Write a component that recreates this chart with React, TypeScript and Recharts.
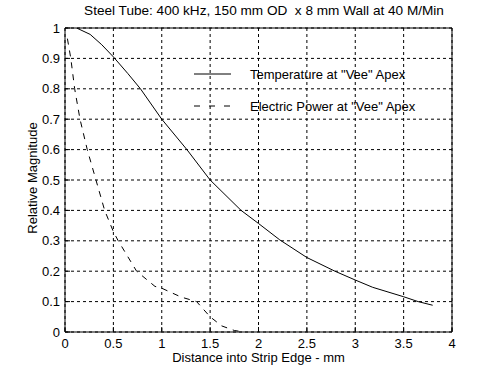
import React from 'react';
import { LineChart, Line, XAxis, YAxis, CartesianGrid, ReferenceArea, Legend } from 'recharts';

const tempX = [0.12, 0.26, 0.38, 0.5, 0.65, 0.78, 1.0, 1.26, 1.5, 1.82, 2.0, 2.22, 2.5, 2.79, 3.0, 3.18, 3.5, 3.65, 3.8];
const tempY = [1.0, 0.979, 0.945, 0.905, 0.85, 0.8, 0.7, 0.6, 0.5, 0.4, 0.357, 0.303, 0.245, 0.2, 0.171, 0.147, 0.116, 0.1, 0.088];

const powerX = [0.025, 0.06, 0.1, 0.155, 0.23, 0.32, 0.41, 0.5, 0.55, 0.74, 0.93, 1.0, 1.2, 1.36, 1.5, 1.62, 1.75, 1.85];
const powerY = [0.965, 0.9, 0.8, 0.7, 0.6, 0.5, 0.4, 0.33, 0.3, 0.2, 0.15, 0.144, 0.115, 0.1, 0.05, 0.02, 0.005, 0.0];

const xTicks = [0, 0.5, 1, 1.5, 2, 2.5, 3, 3.5, 4];
const yTicks = [0, 0.1, 0.2, 0.3, 0.4, 0.5, 0.6, 0.7, 0.8, 0.9, 1];

const titleText = 'Steel Tube: 400 kHz, 150 mm OD  x 8 mm Wall at 40 M/Min';
const xLabel = 'Distance into Strip Edge - mm';
const yLabel = 'Relative Magnitude';
const seriesNames = ['Temperature at "Vee" Apex', 'Electric Power at "Vee" Apex'];

const tempData = tempX.map((x, i) => ({ x, y: tempY[i] }));
const powerData = powerX.map((x, i) => ({ x, y: powerY[i] }));

const FONT = '"Liberation Sans", Arial, sans-serif';

const XTick = (props: any) => {
  const { x, y, payload } = props;
  const axisY = y - 7;
  return (
    <g>
      <line x1={x} x2={x} y1={axisY} y2={axisY - 5} stroke="#000" />
      <text x={x} y={y} dy="0.71em" textAnchor="middle" fontSize={13} fontFamily={FONT} fill="#000">
        {String(payload.value)}
      </text>
    </g>
  );
};

const YTick = (props: any) => {
  const { x, y, payload } = props;
  const axisX = x + 5;
  return (
    <g>
      <line x1={axisX} x2={axisX + 5} y1={y} y2={y} stroke="#000" />
      <text x={x} y={y} dy="0.355em" textAnchor="end" fontSize={13} fontFamily={FONT} fill="#000">
        {String(payload.value)}
      </text>
    </g>
  );
};

const LegendContent = () => (
  <div style={{ fontFamily: FONT, fontSize: 13, color: '#000' }}>
    {seriesNames.map((n, i) => (
      <div key={n} style={{ display: 'flex', alignItems: 'center', height: 32 }}>
        <svg width={56} height={10} style={{ display: 'block' }}>
          <line x1={0} x2={37} y1={5} y2={5} stroke="#000" strokeDasharray={i === 1 ? '6 9' : undefined} />
        </svg>
        <span>{n}</span>
      </div>
    ))}
  </div>
);

export default function App() {
  return (
    <div style={{ position: 'absolute', left: 0, top: 0, width: 500, height: 375, background: '#fff' }}>
      <div
        style={{
          position: 'absolute', left: 0, top: 3, width: 528, textAlign: 'center',
          fontFamily: FONT, fontSize: 13.6, color: '#000', whiteSpace: 'pre',
        }}
      >
        {titleText}
      </div>
      <div
        style={{
          position: 'absolute', left: 32, top: 178, width: 0, height: 0,
        }}
      >
        <div
          style={{
            position: 'absolute', left: 0, top: 0, transform: 'translate(-50%, -50%) rotate(-90deg)',
            fontFamily: FONT, fontSize: 13, color: '#000', whiteSpace: 'nowrap',
          }}
        >
          {yLabel}
        </div>
      </div>
      <div
        style={{
          position: 'absolute', left: 0, top: 351, width: 517, textAlign: 'center',
          fontFamily: FONT, fontSize: 13, lineHeight: '14px', color: '#000', whiteSpace: 'pre',
        }}
      >
        {xLabel}
      </div>
      <LineChart width={500} height={375} margin={{ top: 28, right: 48, bottom: 13, left: 0 }}>
        <CartesianGrid stroke="#000" strokeDasharray="3 3" horizontalValues={yTicks} verticalValues={xTicks} />
        <XAxis
          type="number"
          dataKey="x"
          domain={[0, 4]}
          ticks={xTicks}
          height={30}
          axisLine={false}
          tickLine={false}
          tickSize={5}
          tickMargin={2}
          tick={<XTick />}
          allowDataOverflow
        />
        <YAxis
          type="number"
          dataKey="y"
          domain={[0, 1]}
          ticks={yTicks}
          width={65}
          axisLine={false}
          tickLine={false}
          tickSize={5}
          tickMargin={0}
          tick={<YTick />}
          allowDataOverflow
        />
        <ReferenceArea x1={0} x2={4} y1={0} y2={1} fill="none" stroke="#000" strokeWidth={1} ifOverflow="visible" />
        <Line data={tempData} dataKey="y" stroke="#000" strokeWidth={1} dot={false} isAnimationActive={false} type="linear" />
        <Line data={powerData} dataKey="y" stroke="#000" strokeWidth={1} strokeDasharray="6 6" dot={false} isAnimationActive={false} type="linear" />
        <Legend
          layout="horizontal"
          verticalAlign="middle"
          align="center"
          content={<LegendContent />}
          wrapperStyle={{ left: 194, top: 58, width: 260 }}
        />
      </LineChart>
    </div>
  );
}
